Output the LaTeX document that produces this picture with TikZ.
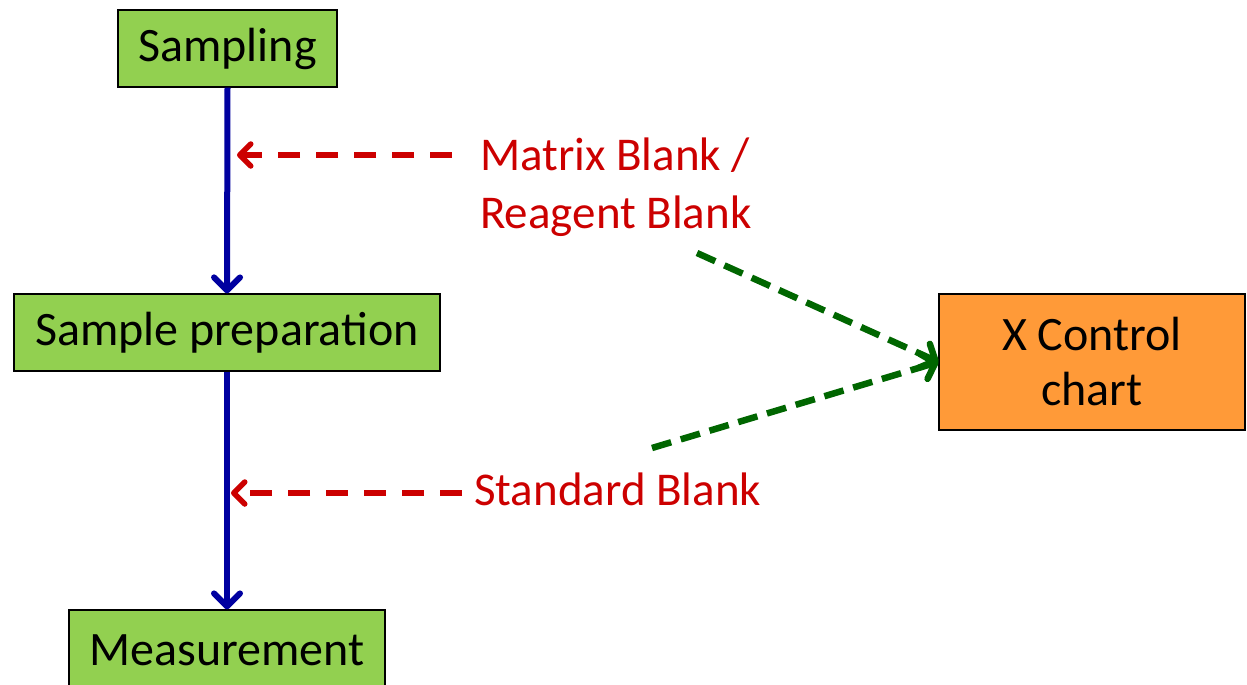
\documentclass[tikz,border=0pt]{standalone}
\usepackage{fontspec}
\setmainfont{Carlito}
\usetikzlibrary{arrows.meta}
\definecolor{boxgreen}{HTML}{92D050}
\definecolor{boxorange}{HTML}{FF9A38}
\definecolor{flowblue}{HTML}{0000A0}
\definecolor{blankred}{HTML}{CC0000}
\definecolor{linkgreen}{HTML}{006600}
\tikzset{
  stepbox/.style={draw=black, line width=1.2pt, fill=boxgreen, inner sep=0pt},
  chartbox/.style={draw=black, line width=1.2pt, fill=boxorange, inner sep=0pt},
  flow/.style={draw=flowblue, line width=6pt,
    -{Straight Barb[length=13pt, width=26pt, round]}},
  blankarrow/.style={draw=blankred, line width=5.5pt, dash pattern=on 22pt off 16pt,
    -{Straight Barb[length=11pt, width=22pt, round]}},
  linkarrow/.style={draw=linkgreen, line width=6.5pt, dash pattern=on 20pt off 10pt,
    -{Straight Barb[length=12pt, width=26pt, round]}},
  redtext/.style={text=blankred, font=\fontsize{47}{56}\selectfont, anchor=base west, inner sep=0pt},
  boxtext/.style={font=\fontsize{48}{56}\selectfont},
}
\begin{document}
\begin{tikzpicture}[x=1pt, y=-1pt]
  \useasboundingbox (0,0) rectangle (1247,685);
  \clip (0,0) rectangle (1247,685);

  % process steps
  \node[stepbox, minimum width=219pt, minimum height=77pt] (sampling) at (227.5,48.5) {};
  \node[boxtext] at (sampling.center) {Sampling};
  \node[stepbox, minimum width=426pt, minimum height=77pt] (prep) at (227,332.5) {};
  \node[boxtext] at (prep.center) {Sample preparation};
  \node[stepbox, minimum width=316pt, minimum height=90pt] (measure) at (227,655) {};
  \node[boxtext] at (227,650) {Measurement};

  % control chart
  \node[chartbox, minimum width=306pt, minimum height=136pt, align=center,
        font=\fontsize{48}{55}\selectfont] (chart) at (1092,362) {X Control\\chart};

  % main flow
  \draw[flow] (sampling.south) -- (prep.north);
  \draw[flow] (prep.south) -- (measure.north);

  % blank labels
  \node[redtext] (mbl) at (480,170) {Matrix Blank /};
  \node[redtext] (rbl) at (480,228) {Reagent Blank};
  \node[redtext] (sbl) at (474,505) {Standard Blank};

  % blanks feeding into the flow
  \coordinate (mbtip) at (237,155);
  \coordinate (mbstart) at (452,155);
  \coordinate (sbtip) at (231,493);
  \coordinate (sbstart) at (462,493);
  \draw[blankarrow] (mbstart) -- (mbtip);
  \draw[blankarrow] (sbstart) -- (sbtip);

  % blanks linked to the control chart
  \coordinate (rbfrom) at (697,253);
  \coordinate (sbfrom) at (652,448);
  \draw[linkarrow] (rbfrom) -- (chart.west);
  \draw[linkarrow] (sbfrom) -- (chart.west);
\end{tikzpicture}
\end{document}
